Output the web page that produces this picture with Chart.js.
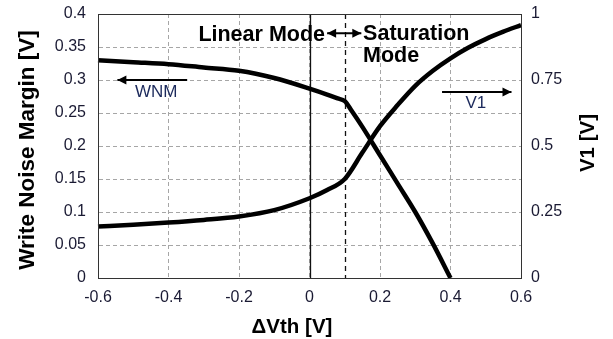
<!DOCTYPE html>
<html>
<head>
<meta charset="utf-8">
<script src="https://cdn.jsdelivr.net/npm/chart.js@4/dist/chart.umd.min.js"></script>
<style>
  html, body { margin: 0; padding: 0; background: #fff; }
  #wrap { width: 613px; height: 339px; position: relative; }
</style>
</head>
<body>
<div id="wrap"><canvas id="chart"></canvas></div>
<script>
// chart data
const wnmX = [-0.6, -0.5, -0.4, -0.3, -0.2, -0.1, 0, 0.05, 0.08, 0.1, 0.12, 0.15, 0.2, 0.25, 0.3, 0.35, 0.4]
const wnmY = [0.330, 0.327, 0.324, 0.319, 0.314, 0.303, 0.287, 0.278, 0.272, 0.268, 0.253, 0.229, 0.186, 0.143, 0.100, 0.052, 0.0]

const v1X = [-0.6, -0.5, -0.4, -0.3, -0.2, -0.1, 0, 0.05, 0.1, 0.15, 0.2, 0.25, 0.3, 0.35, 0.4, 0.45, 0.5, 0.55, 0.6]
const v1Y = [0.195, 0.202, 0.210, 0.220, 0.233, 0.257, 0.302, 0.333, 0.375, 0.475, 0.575, 0.655, 0.728, 0.785, 0.832, 0.872, 0.905, 0.933, 0.958]

const xTickLabels = ['-0.6', '-0.4', '-0.2', '0', '0.2', '0.4', '0.6']
const leftTickLabels = ['0', '0.05', '0.1', '0.15', '0.2', '0.25', '0.3', '0.35', '0.4']
const rightTickLabels = ['0', '0.25', '0.5', '0.75', '1']

const FONT = "'Liberation Sans', Arial, sans-serif"
const TEXT = '#1a1a33'
const GRID = '#a6a6a6'

const pickLabel = (labels, v) => {
  const hit = labels.find(t => Math.abs(Number(t) - v) < 1e-6)
  return hit === undefined ? '' : hit
}

// annotations: mode lines, mode labels, series arrows and axis titles
const annotate = {
  id: 'annotate',
  beforeDatasetsDraw (chart) {
    const { ctx, chartArea: a, scales: { x } } = chart
    ctx.save()
    ctx.strokeStyle = '#111'
    ctx.lineWidth = 1.3
    let px = Math.round(x.getPixelForValue(0)) + 0.5
    ctx.beginPath(); ctx.moveTo(px, a.top); ctx.lineTo(px, a.bottom); ctx.stroke()
    px = Math.round(x.getPixelForValue(0.1)) + 0.5
    ctx.setLineDash([5, 4])
    ctx.beginPath(); ctx.moveTo(px, a.top); ctx.lineTo(px, a.bottom); ctx.stroke()
    ctx.restore()
  },
  afterDatasetsDraw (chart) {
    const { ctx, chartArea: a, scales: { x, y } } = chart
    const X = v => x.getPixelForValue(v)
    const Y = v => y.getPixelForValue(v)

    // frame
    ctx.save()
    ctx.strokeStyle = '#333'
    ctx.lineWidth = 1
    ctx.strokeRect(Math.round(a.left) + 0.5, Math.round(a.top) + 0.5, Math.round(a.width), Math.round(a.height))

    const arrow = (x1, x2, yy, both) => {
      ctx.strokeStyle = '#000'
      ctx.fillStyle = '#000'
      ctx.lineWidth = 2
      ctx.beginPath(); ctx.moveTo(x1, yy); ctx.lineTo(x2, yy); ctx.stroke()
      const head = (tip, dir) => {
        ctx.beginPath()
        ctx.moveTo(tip, yy)
        ctx.lineTo(tip - dir * 9, yy - 4.5)
        ctx.lineTo(tip - dir * 9, yy + 4.5)
        ctx.closePath(); ctx.fill()
      }
      const dir = x2 > x1 ? 1 : -1
      head(x2, dir)
      if (both) head(x1, -dir)
    }

    ctx.fillStyle = '#000'
    ctx.textBaseline = 'middle'
    ctx.font = 'bold 21.5px ' + FONT
    ctx.textAlign = 'right'
    ctx.fillText('Linear Mode', X(0.044), Y(0.368))
    ctx.textAlign = 'left'
    ctx.fillText('Saturation', X(0.152), Y(0.369))
    ctx.fillText('Mode', X(0.152), Y(0.336))
    arrow(X(0.05), X(0.147), Y(0.371), true)

    arrow(X(-0.347), X(-0.545), Y(0.3), false)
    arrow(X(0.376), X(0.573), Y(0.282), false)

    ctx.font = '17px ' + FONT
    ctx.fillStyle = '#1c2a5c'
    ctx.textAlign = 'center'
    ctx.fillText('WNM', X(-0.435), Y(0.281))
    ctx.fillText('V1', X(0.472), Y(0.265))

    // axis titles
    ctx.fillStyle = '#000'
    ctx.font = 'bold 20.5px ' + FONT
    ctx.fillText('ΔVth [V]', 292, 327)
    ctx.save()
    ctx.translate(28, 150)
    ctx.rotate(-Math.PI / 2)
    ctx.font = 'bold 22.5px ' + FONT
    ctx.fillText('Write Noise Margin [V]', 0, 0)
    ctx.restore()
    ctx.save()
    ctx.translate(588, 143)
    ctx.rotate(-Math.PI / 2)
    ctx.fillText('V1 [V]', 0, 0)
    ctx.restore()
    ctx.restore()
  }
}

const tickFont = { family: FONT, size: 16 }
const noPad = s => { s.paddingTop = 0; s.paddingBottom = 0 }

new Chart(document.getElementById('chart'), {
  type: 'line',
  data: {
    datasets: [{
      label: 'WNM',
      data: wnmX.map((v, i) => ({ x: v, y: wnmY[i] })),
      yAxisID: 'y',
      borderColor: '#000',
      borderWidth: 4.5,
      pointRadius: 0,
      cubicInterpolationMode: 'monotone',
      clip: 4
    }, {
      label: 'V1',
      data: v1X.map((v, i) => ({ x: v, y: v1Y[i] })),
      yAxisID: 'y1',
      borderColor: '#000',
      borderWidth: 4.5,
      pointRadius: 0,
      cubicInterpolationMode: 'monotone',
      clip: 4
    }]
  },
  options: {
    responsive: true,
    maintainAspectRatio: false,
    animation: false,
    layout: { padding: { top: 14, left: 0, right: 0, bottom: 0 } },
    plugins: { legend: { display: false }, tooltip: { enabled: false } },
    scales: {
      x: {
        type: 'linear',
        min: -0.6,
        max: 0.6,
        afterFit: s => { s.height = 61 },
        ticks: { stepSize: 0.2, color: TEXT, font: tickFont, padding: 10, maxRotation: 0,
          callback: v => pickLabel(xTickLabels, v) },
        grid: { color: GRID, lineWidth: 1, drawTicks: false },
        border: { display: true, color: '#333', dash: [4, 3] }
      },
      y: {
        position: 'left',
        min: 0,
        max: 0.4,
        afterFit: s => { s.width = 98; noPad(s) },
        ticks: { stepSize: 0.05, color: TEXT, font: tickFont, padding: 12,
          callback: v => pickLabel(leftTickLabels, v) },
        grid: { color: GRID, lineWidth: 1, drawTicks: false },
        border: { display: true, color: '#333', dash: [4, 3] }
      },
      y1: {
        position: 'right',
        min: 0,
        max: 1,
        afterFit: s => { s.width = 92; noPad(s) },
        ticks: { stepSize: 0.25, color: TEXT, font: tickFont, padding: 10,
          callback: v => pickLabel(rightTickLabels, v) },
        grid: { drawOnChartArea: false, drawTicks: false },
        border: { display: true, color: '#333' }
      }
    }
  },
  plugins: [annotate]
})
</script>
</body>
</html>
